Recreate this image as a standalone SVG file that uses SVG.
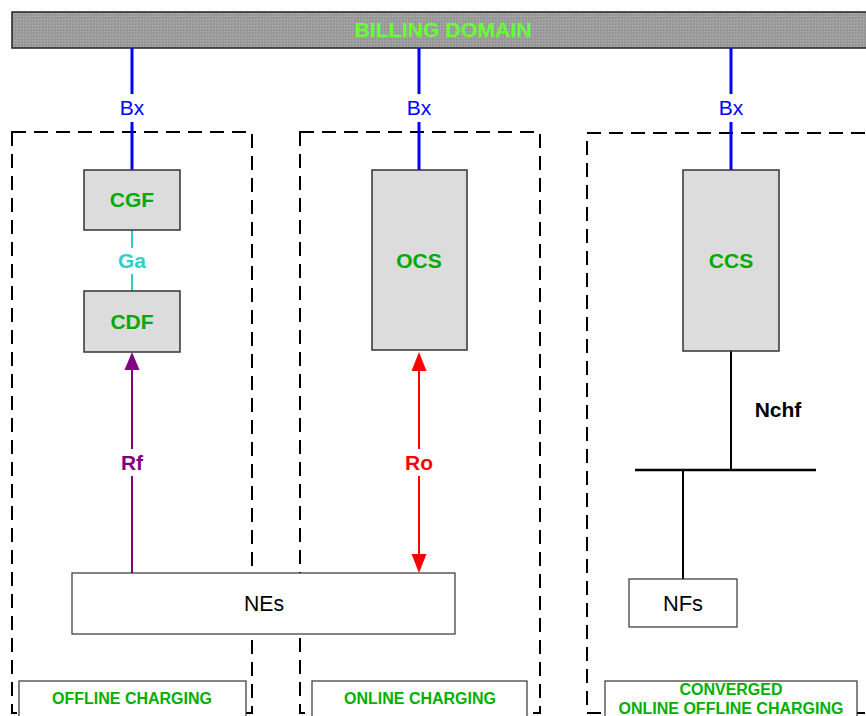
<svg xmlns="http://www.w3.org/2000/svg" width="866" height="716" viewBox="0 0 866 716">
<style>
.dash{fill:none;stroke:#000;stroke-width:2;stroke-dasharray:14 8}
.fn{fill:#dcdcdc;stroke:#333;stroke-width:1.5}
.wb{fill:#fff;stroke:#333;stroke-width:1.2}
.fnt{font-family:"Liberation Sans",Arial,sans-serif;font-size:21px;font-weight:bold;fill:#00aa00;text-anchor:middle}
.lbl{font-family:"Liberation Sans",Arial,sans-serif;font-size:16px;font-weight:bold;fill:#00b000;text-anchor:middle}
.bx{stroke:#0000ff;stroke-width:3}
.bxt{font-family:"Liberation Sans",Arial,sans-serif;font-size:21px;fill:#0000ff;text-anchor:middle}
.it{font-family:"Liberation Sans",Arial,sans-serif;font-size:21px;font-weight:bold;text-anchor:middle}
.ne{font-family:"Liberation Sans",Arial,sans-serif;font-size:22px;fill:#000;text-anchor:middle}
</style>
<defs>
<pattern id="grain" width="3" height="3" patternUnits="userSpaceOnUse">
<rect width="3" height="3" fill="#9c9c9c"/>
<rect width="1" height="1" fill="#8a8a8a"/>
<rect x="2" y="1" width="1" height="1" fill="#b0b0b0"/>
</pattern>
</defs>
<rect width="866" height="716" fill="#fff"/>
<g id="billing">
<rect x="12" y="12" width="870" height="36" fill="url(#grain)" stroke="#222" stroke-width="1.5"/>
<text x="443" y="37" font-family="Liberation Sans, Arial, sans-serif" font-size="21" font-weight="bold" fill="#66ff33" text-anchor="middle" textLength="177" lengthAdjust="spacingAndGlyphs">BILLING DOMAIN</text>
</g>
<g id="domains">
<rect class="dash" x="12" y="132" width="240" height="581"/>
<rect class="dash" x="300" y="132" width="240" height="581"/>
<rect class="dash" x="587" y="133" width="300" height="580"/>
</g>
<g id="connectors">
<line class="bx" x1="132" y1="48" x2="132" y2="94"/>
<line class="bx" x1="132" y1="122" x2="132" y2="170"/>
<line class="bx" x1="419" y1="48" x2="419" y2="94"/>
<line class="bx" x1="419" y1="122" x2="419" y2="170"/>
<line class="bx" x1="731" y1="48" x2="731" y2="94"/>
<line class="bx" x1="731" y1="122" x2="731" y2="170"/>
<text class="bxt" x="132" y="115">Bx</text>
<text class="bxt" x="419" y="115">Bx</text>
<text class="bxt" x="731" y="115">Bx</text>
<line x1="132" y1="230" x2="132" y2="248" stroke="#33cccc" stroke-width="2"/>
<line x1="132" y1="274" x2="132" y2="291" stroke="#33cccc" stroke-width="2"/>
<text class="it" x="132" y="268" fill="#33cccc">Ga</text>
<line x1="132" y1="368" x2="132" y2="449" stroke="#800080" stroke-width="2"/>
<line x1="132" y1="476" x2="132" y2="573" stroke="#800080" stroke-width="2"/>
<polygon points="132,352 124.5,370 139.5,370" fill="#800080"/>
<text class="it" x="132" y="470" fill="#800080">Rf</text>
<line x1="419" y1="368" x2="419" y2="449" stroke="#ff0000" stroke-width="2"/>
<line x1="419" y1="476" x2="419" y2="557" stroke="#ff0000" stroke-width="2"/>
<polygon points="419,352 411.5,371 426.5,371" fill="#ff0000"/>
<polygon points="419,573 411.5,554 426.5,554" fill="#ff0000"/>
<text class="it" x="419" y="470" fill="#ff0000">Ro</text>
<line x1="731" y1="351" x2="731" y2="470" stroke="#000" stroke-width="2"/>
<line x1="635" y1="470" x2="816" y2="470" stroke="#000" stroke-width="2.5"/>
<line x1="683" y1="470" x2="683" y2="579" stroke="#000" stroke-width="2"/>
<text class="it" x="778" y="417" fill="#000">Nchf</text>
</g>
<g id="cgf"><rect class="fn" x="84" y="170" width="96" height="60"/><text class="fnt" x="132" y="207">CGF</text></g>
<g id="cdf"><rect class="fn" x="84" y="291" width="96" height="61"/><text class="fnt" x="132" y="329">CDF</text></g>
<g id="ocs"><rect class="fn" x="372" y="170" width="95" height="180"/><text class="fnt" x="419" y="268">OCS</text></g>
<g id="ccs"><rect class="fn" x="683" y="170" width="96" height="181"/><text class="fnt" x="731" y="268">CCS</text></g>
<g id="nes"><rect class="wb" x="72" y="573" width="383" height="61"/><text class="ne" x="264" y="611" textLength="40" lengthAdjust="spacingAndGlyphs">NEs</text></g>
<g id="nfs"><rect class="wb" x="629" y="579" width="108" height="48"/><text class="ne" x="683" y="611" textLength="40" lengthAdjust="spacingAndGlyphs">NFs</text></g>
<g id="label-offline"><rect class="wb" x="19" y="681" width="227" height="45"/><text class="lbl" x="132" y="704" textLength="160" lengthAdjust="spacingAndGlyphs">OFFLINE CHARGING</text></g>
<g id="label-online"><rect class="wb" x="312" y="681" width="215" height="45"/><text class="lbl" x="420" y="704" textLength="152" lengthAdjust="spacingAndGlyphs">ONLINE CHARGING</text></g>
<g id="label-converged"><rect class="wb" x="605" y="681" width="252" height="45"/><text class="lbl" x="731" y="695" textLength="103" lengthAdjust="spacingAndGlyphs">CONVERGED</text><text class="lbl" x="731" y="714" textLength="225" lengthAdjust="spacingAndGlyphs">ONLINE OFFLINE CHARGING</text></g>
</svg>
